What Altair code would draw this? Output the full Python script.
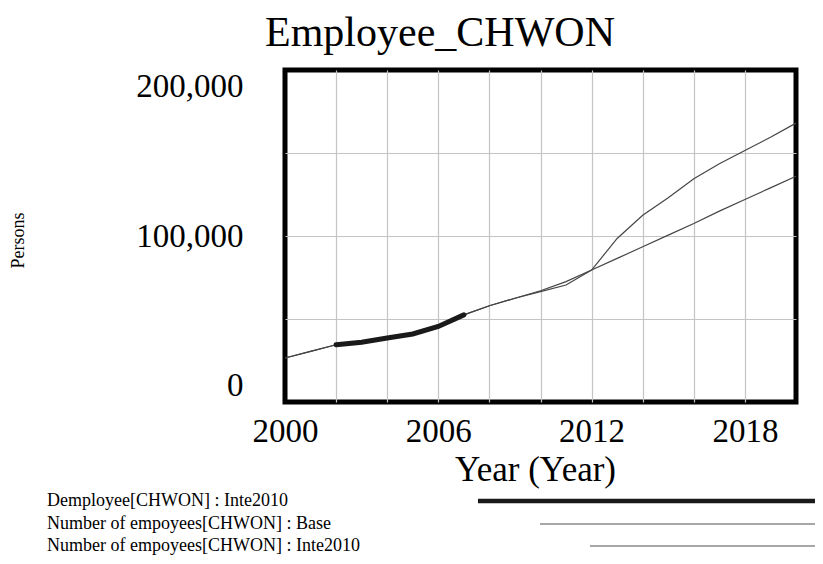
import altair as alt
import pandas as pd

# ---- data (persons) ----
years = list(range(2000, 2021))
base_k = [26.5, 30.5, 34.5, 36.0, 38.5, 41.0, 45.5, 52.5, 58.0, 62.5, 67.0,
          72.5, 79.5, 86.5, 93.5, 100.5, 107.5, 115.0, 122.0, 129.0, 136.0]
inte_k = [26.5, 30.5, 34.5, 36.0, 38.5, 41.0, 45.5, 52.5, 58.0, 62.5, 66.5,
          70.5, 79.5, 98.5, 112.5, 123.0, 134.5, 143.5, 151.5, 159.5, 168.0]
demp_years = [2002, 2003, 2004, 2005, 2006, 2007]
demp_k = [34.5, 36.0, 38.5, 41.0, 45.5, 52.5]

chart_title = "Employee_CHWON"
series_names = [
    "Demployee[CHWON] : Inte2010",
    "Number of empoyees[CHWON] : Base",
    "Number of empoyees[CHWON] : Inte2010",
]

x_labels = [2000, 2006, 2012, 2018]
y_labels = [0, 100000, 200000]
y_grid = [0, 50000, 100000, 150000, 200000]

FONT = "Liberation Serif"
W, H = 511, 332

thin = pd.DataFrame({
    "Year": years + years,
    "Persons": [v * 1000 for v in base_k] + [v * 1000 for v in inte_k],
    "series": [series_names[1]] * len(years) + [series_names[2]] * len(years),
})
thick = pd.DataFrame({
    "Year": demp_years,
    "Persons": [v * 1000 for v in demp_k],
    "series": [series_names[0]] * len(demp_years),
})

edge_x = "datum.value == 2000 || datum.value == 2020"
edge_y = "datum.value == 0 || datum.value == 200000"

x_enc = alt.X(
    "Year:Q",
    scale=alt.Scale(domain=[2000, 2020], nice=False),
    axis=alt.Axis(
        values=years, format="d",
        labelExpr="indexof([" + ",".join(str(v) for v in x_labels) + "], datum.value) >= 0 ? datum.label : ''",
        labelFlush=False, labelFontSize=33, labelFont=FONT, labelColor="black",
        labelPadding=13, ticks=False, domain=False,
        grid=True, gridColor="#c4c4c4", gridWidth=1.2,
        gridOpacity={"condition": {"test": edge_x, "value": 0}, "value": 1},
        title="Year (Year)", titleFont=FONT, titleFontSize=35, titleFontWeight="normal",
        titleColor="black", titleX=250, titleY=78, titleAlign="center",
        titleBaseline="alphabetic",
    ),
)
y_enc = alt.Y(
    "Persons:Q",
    scale=alt.Scale(domain=[0, 200000], nice=False),
    axis=alt.Axis(
        values=y_grid, format=",d",
        labelExpr="indexof([" + ",".join(str(v) for v in y_labels) + "], datum.value) >= 0 ? datum.label : ''",
        labelFlush=True, labelFontSize=33, labelFont=FONT, labelColor="black",
        labelPadding=42, ticks=False, domain=False,
        grid=True, gridColor="#c4c4c4", gridWidth=1.2,
        gridOpacity={"condition": {"test": edge_y, "value": 0}, "value": 1},
        title="Persons", titleFont=FONT, titleFontSize=18, titleFontWeight="normal",
        titleColor="black", titleAngle=270, titleX=-267, titleY=170,
        titleAlign="center", titleBaseline="middle",
    ),
)

thin_layer = alt.Chart(thin).mark_line(strokeWidth=1.2, interpolate="linear").encode(
    x=x_enc, y=y_enc,
    color=alt.Color("series:N", scale=alt.Scale(domain=series_names[1:], range=["#454545", "#454545"]), legend=None),
)
thick_layer = alt.Chart(thick).mark_line(strokeWidth=5, color="#1a1a1a", strokeCap="round").encode(
    x="Year:Q", y="Persons:Q",
)

# ---- chart title (drawn as a text mark, centred like the reference) ----
title_layer = alt.Chart(pd.DataFrame({"t": [chart_title]})).mark_text(
    align="center", baseline="alphabetic", font=FONT, fontSize=42, color="black"
).encode(x=alt.value(155), y=alt.value(-24), text="t:N")

# ---- legend drawn below the plot (Vensim style: label then line sample) ----
legend_rows = [
    # (name, y, line start, stroke width, colour)
    (series_names[0], 431, 193, 4.5, "#1a1a1a"),
    (series_names[1], 454, 255, 1.2, "#505050"),
    (series_names[2], 476, 305, 1.2, "#505050"),
]
legend_layers = []
for name, ry, x1, sw, col in legend_rows:
    df = pd.DataFrame({"label": [name]})
    legend_layers.append(
        alt.Chart(df).mark_text(align="left", baseline="middle", font=FONT, fontSize=18, color="black").encode(
            x=alt.value(-238), y=alt.value(ry), text="label:N")
    )
    legend_layers.append(
        alt.Chart(df).mark_rule(strokeWidth=sw, color=col).encode(
            x=alt.value(x1), x2=alt.value(540), y=alt.value(ry))
    )

chart = alt.layer(thin_layer, thick_layer, title_layer, *legend_layers).properties(
    width=W, height=H,
    background="white",
    autosize=alt.AutoSizeParams(type="none"),
    padding={"left": 277, "top": 62, "right": 19, "bottom": 154},
).configure_view(stroke="black", strokeWidth=5)

chart.save("out.html", embed_options={"renderer": "svg", "actions": False})
